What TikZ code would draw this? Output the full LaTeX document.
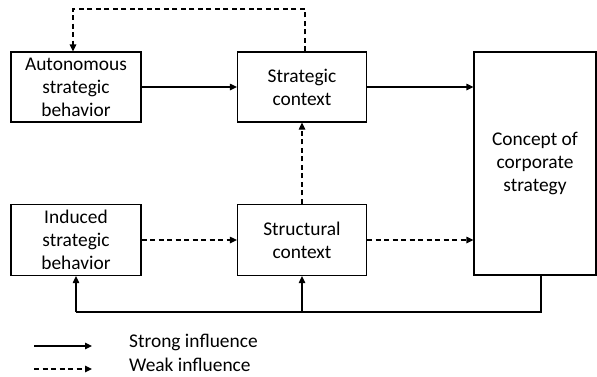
\documentclass[tikz,border=0pt]{standalone}
\usepackage{fontspec}
\setmainfont{Carlito}
\usetikzlibrary{arrows.meta}
\begin{document}
\begin{tikzpicture}[x=1pt,y=-1pt,
		box/.style={draw,line width=1.2pt,align=center,inner sep=0pt,minimum width=130pt,minimum height=70pt,font=\fontsize{19.4}{23}\selectfont},
		strong/.style={line width=1.2pt,-{Triangle[length=7pt,width=6.5pt]}},
		weak/.style={strong,dash pattern=on 5pt off 3.5pt}]
			\useasboundingbox (0,0) rectangle (597,376);
			\draw 
			(76,87) node[box](auto){Autonomous\\strategic\\behavior} (302,87) node[box,minimum width=129pt](strat){Strategic\\context}
			(76,240) node[box,minimum height=71pt](induc){Induced\\strategic\\behavior} (302,240) node[box,minimum width=129pt,minimum height=71pt](struc){Structural\\context}
			(535,163.5) node[box,minimum width=122pt,minimum height=223pt](conc){Concept of\\corporate\\strategy};
			\coordinate (top) at (305,9);
			\coordinate (fb) at (541,312);
			\draw[strong] (auto) -- (strat);
			\draw[strong] (strat) -- (strat-|conc.west);
			\draw[weak] (induc) -- (struc);
			\draw[weak] (struc) -- (struc-|conc.west);
			\draw[weak] (struc) -- (strat);
			\draw[weak] (top|-strat.north) -- (top) -| ([xshift=-3pt]auto.north);
			\draw[line width=1.2pt] (fb|-conc.south) -- (fb) -- (fb-|induc);
			\draw[strong] (fb-|induc) -- (induc);
			\draw[strong] (fb-|struc) -- (struc);
			% legend
			\coordinate (s1) at (34,346); \coordinate (s2) at (92,346);
			\coordinate (w1) at (34,369); \coordinate (w2) at (92,369);
			\draw[strong] (s1) -- (s2);
			\draw[weak] (w1) -- (w2);
			\draw 
			(129,342) node[anchor=west,inner sep=0pt,font=\fontsize{19.4}{23}\selectfont](lstrong){Strong influence}
			(129,365) node[anchor=west,inner sep=0pt,font=\fontsize{19.4}{23}\selectfont](lweak){Weak influence};
		\end{tikzpicture}
\end{document}
